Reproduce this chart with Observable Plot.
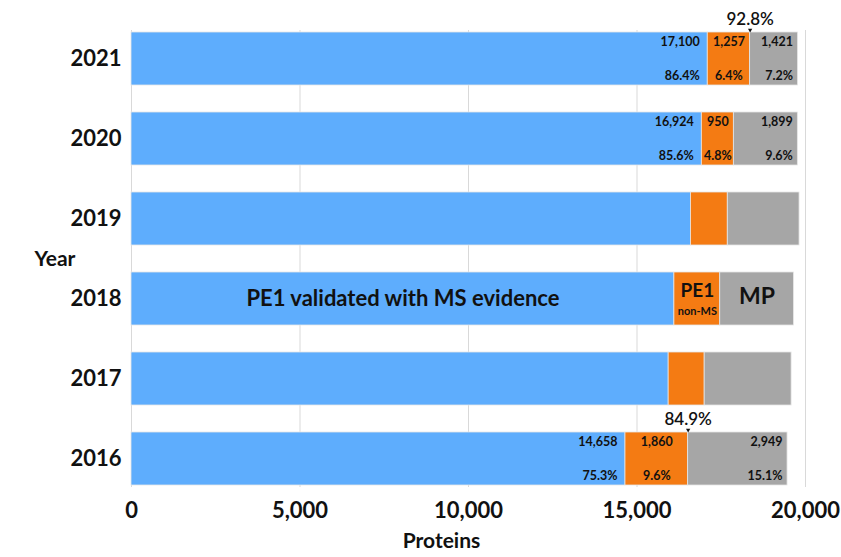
<!DOCTYPE html>
<html>
<head>
<meta charset="utf-8">
<script src="https://cdn.jsdelivr.net/npm/d3@7"></script>
<script src="https://cdn.jsdelivr.net/npm/@observablehq/plot@0.6"></script>
<style>
  html, body { margin: 0; padding: 0; background: #fff; }
  #chart { width: 841px; height: 557px; }
  svg { font-family: Lato, "Open Sans", sans-serif; }
</style>
</head>
<body>
<div id="chart"></div>
<script>
// ---- data ----
const years = ["2021", "2020", "2019", "2018", "2017", "2016"];
const msValidated = [17100, 16924, 16600, 16110, 15940, 14658];
const nonMs = [1257, 950, 1094, 1360, 1068, 1860];
const missing = [1421, 1899, 2129, 2186, 2579, 2949];
const categories = ["PE1 MS", "PE1 non-MS", "MP"];
const colors = ["#5EADFD", "#F47B13", "#A6A6A6"];
const xTicks = [0, 5000, 10000, 15000, 20000];
const labeledYears = ["2021", "2020", "2016"];
const pctMs = ["86.4%", "85.6%", "75.3%"];
const pctNonMs = ["6.4%", "4.8%", "9.6%"];
const pctMp = ["7.2%", "9.6%", "15.1%"];
const pe1Share = [{year: "2021", text: "92.8%"}, {year: "2016", text: "84.9%"}];
const annotatedYear = "2018";

// ---- tables built from arrays ----
const rows = [];
years.forEach((y, i) => {
  rows.push({year: y, cat: categories[0], value: msValidated[i]});
  rows.push({year: y, cat: categories[1], value: nonMs[i]});
  rows.push({year: y, cat: categories[2], value: missing[i]});
});
const byYear = years.map((y, i) => ({year: y, ms: msValidated[i], non: nonMs[i], mp: missing[i]}));
const labeled = labeledYears.map((y, k) => {
  const r = byYear.find(d => d.year === y);
  return {...r, pMs: pctMs[k], pNon: pctNonMs[k], pMp: pctMp[k]};
});
const shares = pe1Share.map(s => ({...byYear.find(d => d.year === s.year), text: s.text}));
const ann = byYear.filter(d => d.year === annotatedYear);
const fmt = d3.format(",");
const ink = "#111";

const chart = Plot.plot({
  width: 841,
  height: 557,
  marginTop: 30,
  marginBottom: 70,
  marginLeft: 131,
  marginRight: 36,
  style: {fontFamily: "Lato, 'Open Sans', sans-serif", color: ink},
  x: {domain: [0, 20000], ticks: xTicks, tickFormat: fmt},
  y: {domain: years, paddingInner: 0.343, paddingOuter: 0.024},
  color: {domain: categories, range: colors},
  marks: [
    Plot.gridX(xTicks, {stroke: "#d9d9d9", strokeOpacity: 1, strokeWidth: 1}),
    Plot.barX(rows, {y: "year", x: "value", fill: "cat", stroke: "#e6e6e6", strokeWidth: 0.8}),
    Plot.axisX({ticks: xTicks, tickFormat: fmt, tickSize: 0, tickPadding: 15, fontSize: 22, fontWeight: "bold", label: null}),
    Plot.axisY({tickSize: 0, tickPadding: 10, fontSize: 22, fontWeight: "bold", label: null}),
    // axis titles
    Plot.text(["Year"], {frameAnchor: "left", dx: -97, fontSize: 21, fontWeight: "bold", fill: ink}),
    Plot.text(["Proteins"], {frameAnchor: "bottom", dx: -27, dy: 60, fontSize: 21, fontWeight: "bold", fill: ink}),
    // counts
    Plot.text(labeled, {x: "ms", y: "year", text: d => fmt(d.ms), textAnchor: "end", dx: -8, dy: -17, fontSize: 12.5, fontWeight: "bold", fill: ink}),
    Plot.text(labeled, {x: d => d.ms + d.non / 2, y: "year", text: d => fmt(d.non), dy: -17, fontSize: 12.5, fontWeight: "bold", fill: ink}),
    Plot.text(labeled, {x: d => d.ms + d.non + d.mp, y: "year", text: d => fmt(d.mp), textAnchor: "end", dx: -5, dy: -17, fontSize: 12.5, fontWeight: "bold", fill: ink}),
    // percents
    Plot.text(labeled, {x: "ms", y: "year", text: "pMs", textAnchor: "end", dx: -8, dy: 17, fontSize: 12.5, fontWeight: "bold", fill: ink}),
    Plot.text(labeled, {x: d => d.ms + d.non / 2, y: "year", text: "pNon", dy: 17, fontSize: 12.5, fontWeight: "bold", fill: ink}),
    Plot.text(labeled, {x: d => d.ms + d.non + d.mp, y: "year", text: "pMp", textAnchor: "end", dx: -5, dy: 17, fontSize: 12.5, fontWeight: "bold", fill: ink}),
    // PE1 share pointer
    Plot.text(shares, {x: d => d.ms + d.non, y: "year", text: "text", dy: -39, fontSize: 17, fontWeight: 600, fill: ink}),
    Plot.dot(shares, {x: d => d.ms + d.non, y: "year", dy: -29, symbol: "triangle", rotate: 180, r: 1.6, fill: ink, stroke: "none"}),
    // 2018 segment annotations
    Plot.text(ann, {x: d => d.ms / 2, y: "year", text: () => "PE1 validated with MS evidence", fontSize: 22, fontWeight: "bold", fill: ink}),
    Plot.text(ann, {x: d => d.ms + d.non / 2, y: "year", text: () => "PE1", dy: -8, fontSize: 19, fontWeight: "bold", fill: ink}),
    Plot.text(ann, {x: d => d.ms + d.non / 2, y: "year", text: () => "non-MS", dy: 12.5, fontSize: 11, fontWeight: "bold", fill: ink}),
    Plot.text(ann, {x: d => d.ms + d.non + d.mp / 2, y: "year", text: () => "MP", dy: -2, fontSize: 23, fontWeight: "bold", fill: ink})
  ]
});
document.getElementById("chart").appendChild(chart);
</script>
</body>
</html>
